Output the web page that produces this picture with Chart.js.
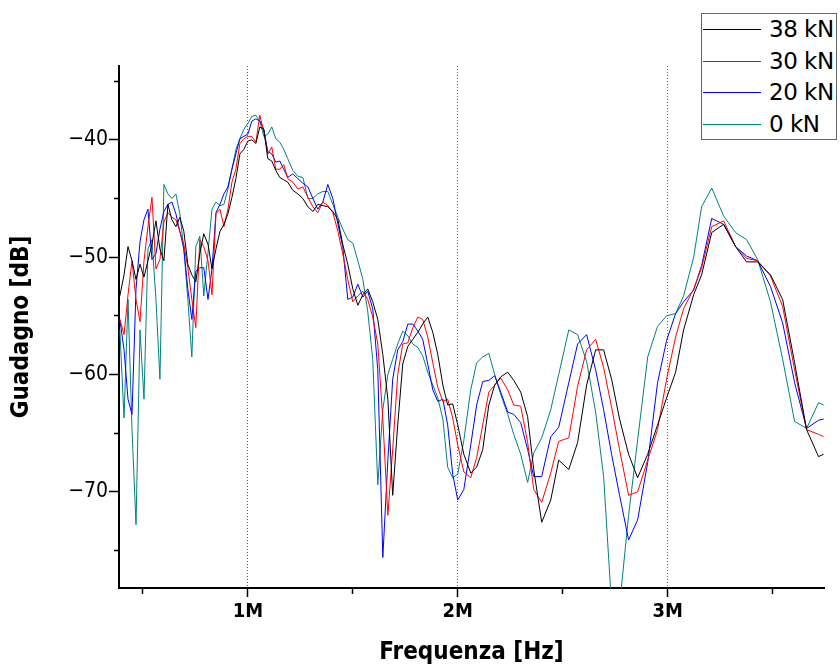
<!DOCTYPE html>
<html>
<head>
<meta charset="utf-8">
<title>Guadagno vs Frequenza</title>
<script src="https://cdn.jsdelivr.net/npm/chart.js@4.4.0/dist/chart.umd.min.js"></script>
<style>
  html, body { margin: 0; padding: 0; background: #fff; }
  #wrap { position: relative; width: 840px; height: 666px; }
  #legend {
    position: absolute; left: 701px; top: 13px; width: 134px; height: 125px;
    border: 1px solid #666; background: #fff;
    font-family: 'DejaVu Sans', sans-serif; font-size: 23px; color: #000;
  }
  .row { position: absolute; left: 0; height: 30px; width: 134px; }
  .swatch { position: absolute; left: 1px; top: 15px; width: 58px; height: 0; border-top: 1px solid; }
  .lbl { position: absolute; left: 67px; top: 0; line-height: 30px; white-space: nowrap; letter-spacing: -0.5px; }
</style>
</head>
<body>
<div id="wrap">
  <canvas id="chart" width="840" height="666"></canvas>
  <div id="legend"></div>
</div>
<script>
// frequency in MHz (axis labels show "1M", "2M", ...)
const freqMHz = [
  0.390, 0.410, 0.429, 0.448, 0.467, 0.486, 0.505, 0.524, 0.543, 0.562,
  0.581, 0.600, 0.619, 0.638, 0.657, 0.676, 0.695, 0.714, 0.733, 0.752,
  0.771, 0.790, 0.810, 0.829, 0.848, 0.867, 0.886, 0.905, 0.924, 0.943,
  0.962, 0.981, 1.000, 1.019, 1.038, 1.057, 1.076, 1.095, 1.114, 1.133,
  1.152, 1.171,
  1.190, 1.214, 1.238, 1.262, 1.286, 1.310, 1.333, 1.357, 1.381, 1.405,
  1.429, 1.452, 1.476, 1.500, 1.524, 1.548, 1.571, 1.595, 1.619, 1.643,
  1.667, 1.690, 1.714, 1.738, 1.762, 1.786, 1.810, 1.833, 1.857, 1.881,
  1.905, 1.929, 1.952, 1.976,
  2.000, 2.029, 2.062, 2.090, 2.119, 2.148, 2.176, 2.205, 2.238, 2.267,
  2.300, 2.333, 2.362, 2.400, 2.443, 2.481, 2.529, 2.571, 2.614, 2.657,
  2.695, 2.733, 2.771, 2.814, 2.857, 2.905, 2.952, 2.995, 3.038, 3.076,
  3.124, 3.162, 3.210, 3.267, 3.324, 3.376, 3.429, 3.490, 3.548, 3.605,
  3.662, 3.719, 3.743
];

// gain in dB
const gain38kN = [
  -53.3, -51.5, -49.1, -50.3, -51.9, -50.6, -51.7, -50.3, -48.9, -46.9,
  -49.3, -50.3, -45.5, -46.8, -47.4, -46.6, -47.8, -50.6, -51.5, -52.1,
  -49.7, -48.0, -48.9, -51.0, -49.3, -47.8, -47.2, -46.3, -44.9, -43.3,
  -41.2, -40.8, -40.1, -40.0, -40.3, -38.9, -39.1, -41.6, -41.8, -42.6,
  -43.2, -43.4,
  -43.6, -44.3, -44.6, -45.0, -45.7, -46.1, -45.5, -45.6, -45.7, -46.1,
  -46.8, -48.9, -50.6, -52.7, -54.1, -53.2, -52.7, -53.8, -55.3, -58.3,
  -62.1, -70.3, -64.3, -59.1, -57.6, -57.0, -56.4, -55.7, -55.1, -56.4,
  -58.3, -60.9, -62.6, -62.5,
  -64.3, -66.8, -68.4, -67.9, -66.4, -62.6, -60.9, -60.2, -59.8, -60.5,
  -61.5, -63.6, -68.1, -72.6, -70.7, -67.3, -68.1, -65.8, -60.9, -57.9,
  -57.9, -60.4, -63.8, -66.8, -68.8, -66.8, -64.3, -62.0, -59.8, -56.2,
  -53.2, -51.5, -47.9, -47.2, -49.1, -50.4, -50.4, -51.5, -53.6, -59.0,
  -64.7, -67.0, -66.8
];
const gain30kN = [
  -55.3, -56.6, -53.2, -50.3, -53.6, -55.5, -50.3, -47.4, -44.9, -51.0,
  -50.2, -47.0, -46.2, -46.6, -46.8, -47.8, -48.9, -50.9, -53.6, -56.0,
  -48.5, -49.1, -50.3, -53.2, -46.3, -45.9, -47.4, -45.9, -43.6, -42.5,
  -40.3, -39.9, -39.7, -39.7, -40.2, -37.9, -39.3, -41.2, -40.6, -42.5,
  -42.5, -42.1,
  -43.3, -43.6, -44.2, -44.0, -44.9, -45.7, -46.2, -45.3, -45.6, -46.2,
  -47.8, -49.7, -51.9, -53.8, -53.3, -52.9, -53.6, -55.1, -57.4, -63.8,
  -72.0, -66.4, -60.0, -57.4, -57.3, -56.0, -55.1, -55.3, -56.8, -59.0,
  -61.1, -62.3, -62.1, -63.7,
  -66.0, -68.3, -68.8, -67.1, -64.3, -61.5, -60.9, -60.3, -61.3, -62.6,
  -62.7, -65.8, -69.8, -70.9, -68.4, -65.7, -65.4, -61.0, -57.9, -57.0,
  -59.4, -62.8, -66.4, -70.3, -70.0, -67.3, -64.7, -60.4, -56.8, -54.4,
  -52.7, -50.9, -47.4, -46.9, -49.1, -50.1, -50.3, -51.6, -54.2, -59.6,
  -64.7, -65.1, -65.3
];
const gain20kN = [
  -55.3, -57.9, -62.1, -63.4, -52.7, -48.7, -46.8, -45.9, -50.2, -49.7,
  -47.6, -46.1, -45.5, -45.3, -46.3, -47.8, -49.3, -52.7, -55.3, -51.2,
  -50.9, -50.9, -53.6, -51.0, -46.2, -45.5, -44.6, -44.0, -42.5, -41.2,
  -39.9, -39.7, -39.5, -38.4, -38.2, -38.4, -39.1, -41.0, -41.2, -41.9,
  -41.8, -42.5,
  -43.2, -42.9, -43.3, -43.7, -44.0, -45.0, -45.9, -45.3, -43.8, -45.0,
  -47.2, -49.1, -53.6, -53.4, -52.3, -53.4, -52.9, -54.4, -59.6, -75.6,
  -67.3, -60.4, -57.9, -57.2, -55.7, -55.7, -56.3, -57.0, -59.1, -61.3,
  -62.3, -62.1, -64.3, -68.5,
  -70.7, -69.8, -66.0, -62.6, -60.6, -60.5, -60.1, -61.5, -63.2, -63.4,
  -64.1, -66.4, -68.7, -68.7, -65.3, -64.5, -60.7, -57.4, -56.6, -59.6,
  -63.0, -66.8, -70.3, -74.1, -72.4, -67.5, -60.7, -57.1, -54.8, -53.8,
  -52.8, -50.7, -46.7, -47.2, -49.1, -49.9, -50.3, -52.5, -55.6, -60.7,
  -64.6, -63.9, -63.8
];
const gain0kN = [
  -56.2, -63.7, -53.6, -64.7, -72.8, -56.2, -62.1, -49.3, -48.5, -53.6,
  -60.4, -43.8, -44.6, -45.0, -44.6, -46.3, -49.3, -53.6, -58.5, -49.1,
  -48.2, -53.3, -49.6, -45.9, -45.3, -45.6, -45.5, -44.2, -42.5, -40.8,
  -39.9, -39.1, -38.6, -38.0, -37.9, -38.4, -39.7, -39.5, -38.9, -39.9,
  -40.2, -40.8,
  -41.6, -42.6, -43.1, -43.2, -45.0, -45.0, -44.6, -44.4, -44.4, -45.5,
  -46.6, -47.6, -48.5, -48.8, -50.3, -51.9, -54.6, -58.7, -69.4, -63.0,
  -60.0, -58.7, -57.4, -56.3, -56.7, -57.4, -57.7, -58.4, -59.8, -60.9,
  -62.0, -63.8, -67.9, -68.8,
  -68.5, -65.6, -61.3, -59.0, -58.5, -58.2, -60.0, -61.7, -63.4, -65.1,
  -66.8, -69.2, -66.7, -65.4, -63.0, -60.0, -56.2, -56.6, -58.9, -63.2,
  -68.7, -79.7, -79.7, -72.0, -65.6, -58.5, -55.9, -55.0, -54.8, -53.3,
  -50.0, -45.7, -44.1, -46.5, -47.9, -48.5, -50.2, -53.8, -58.7, -64.0,
  -64.6, -62.4, -62.6
];

const seriesNames = ['38 kN', '30 kN', '20 kN', '0 kN'];
const seriesValues = [gain38kN, gain30kN, gain20kN, gain0kN];
const seriesColors = ['#000000', '#ff0000', '#0000ff', '#008080'];

const xLabelTicks = [1, 2, 3];          // labelled as 1M, 2M, 3M
const yLabelTicks = [-70, -60, -50, -40];

const FONT = "'DejaVu Sans Condensed', 'DejaVu Sans', sans-serif";
const near = (a, b) => Math.abs(a - b) < 1e-6;
const isXMajor = v => xLabelTicks.some(t => near(t, v));
const isYMajor = v => yLabelTicks.some(t => near(t, v));

// legend (html overlay, top right)
const legendBox = document.getElementById('legend');
seriesNames.forEach((name, i) => {
  const row = document.createElement('div');
  row.className = 'row';
  row.style.top = [0, 32, 63, 95][i] + 'px';
  row.innerHTML = `<div class="swatch" style="border-color:${seriesColors[i]}"></div><span class="lbl">${name}</span>`;
  legendBox.appendChild(row);
});

new Chart(document.getElementById('chart').getContext('2d'), {
  type: 'line',
  data: {
    datasets: seriesNames.map((name, k) => ({
      label: name,
      data: freqMHz.map((f, i) => ({ x: f, y: seriesValues[k][i] })),
      borderColor: seriesColors[k],
      borderWidth: 1,
      pointRadius: 0,
      tension: 0,
      fill: false
    }))
  },
  options: {
    responsive: false,
    animation: false,
    devicePixelRatio: 1,
    layout: { padding: { top: 66, right: 16, bottom: 0, left: 0 } },
    plugins: { legend: { display: false }, tooltip: { enabled: false } },
    scales: {
      x: {
        type: 'linear',
        min: 0.386,
        max: 3.745,
        afterFit: s => { s.height = 78; },
        border: { color: '#000', width: 2, dash: [1, 2] },
        grid: {
          color: c => (c.tick && isXMajor(c.tick.value)) ? '#ff1a1a' : 'rgba(0,0,0,0)',
          lineWidth: 1,
          tickLength: 9,
          tickColor: '#000',
          tickWidth: 1.5,
          tickBorderDash: c => (c.tick && isXMajor(c.tick.value)) ? [] : [5, 100]
        },
        ticks: {
          stepSize: 0.5,
          includeBounds: false,
          autoSkip: false,
          maxRotation: 0,
          padding: 3,
          color: '#000',
          font: { family: FONT, size: 20, weight: 'bold' },
          callback: v => isXMajor(v) ? Math.round(v) + 'M' : ''
        },
        title: {
          display: true,
          text: 'Frequenza [Hz]',
          color: '#000',
          font: { family: FONT, size: 24, weight: 'bold', lineHeight: 1 },
          padding: { top: 0, bottom: 1 }
        }
      },
      y: {
        min: -78.2,
        max: -33.7,
        afterFit: s => { s.width = 119; },
        border: { color: '#000', width: 2 },
        grid: {
          drawOnChartArea: false,
          tickLength: 10,
          tickColor: '#000',
          tickWidth: 1.5,
          tickBorderDash: c => (c.tick && isYMajor(c.tick.value)) ? [] : [5, 100],
          tickBorderDashOffset: c => (c.tick && isYMajor(c.tick.value)) ? 0 : 100
        },
        ticks: {
          stepSize: 5,
          includeBounds: false,
          autoSkip: false,
          padding: 1,
          color: '#000',
          font: { family: FONT, size: 21 },
          callback: v => isYMajor(v) ? '\u2212' + Math.abs(v) : ''
        },
        title: {
          display: true,
          text: 'Guadagno [dB]',
          color: '#000',
          font: { family: FONT, size: 24, weight: 'bold', lineHeight: 1 },
          padding: { top: 10, bottom: 0 }
        }
      }
    }
  }
});
</script>
</body>
</html>
